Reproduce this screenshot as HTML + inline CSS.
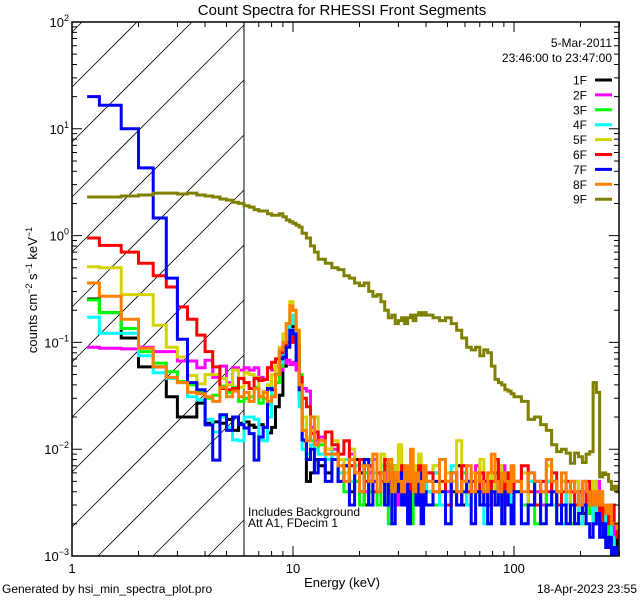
<!DOCTYPE html>
<html><head><meta charset="utf-8"><style>
html,body{margin:0;padding:0;width:640px;height:600px;overflow:hidden;background:#fff}
svg{display:block;font-family:"Liberation Sans",sans-serif}
</style></head><body>
<svg id="chart" width="640" height="600" viewBox="0 0 640 600" xmlns="http://www.w3.org/2000/svg">
<rect width="640" height="600" fill="#fff"/>
<defs><clipPath id="clip"><rect x="72" y="22" width="547" height="534"/></clipPath></defs>
<text x="342" y="15" font-size="15" text-anchor="middle">Count Spectra for RHESSI Front Segments</text>
<g id="hatch"></g>
<g id="series" clip-path="url(#clip)"></g>
<g id="axes"></g>
<text x="342" y="587" font-size="13" text-anchor="middle">Energy (keV)</text>
<text transform="translate(37,290) rotate(-90)" font-size="13" text-anchor="middle">counts cm<tspan dy="-5" font-size="9">−2</tspan><tspan dy="5"> s</tspan><tspan dy="-5" font-size="9">−1</tspan><tspan dy="5"> keV</tspan><tspan dy="-5" font-size="9">−1</tspan></text>
<text x="612" y="47" font-size="12" text-anchor="end">5-Mar-2011</text>
<text x="612" y="62" font-size="12" text-anchor="end">23:46:00 to 23:47:00</text>
<g id="legend"></g>
<text x="248" y="516" font-size="12">Includes Background</text>
<text x="248" y="527" font-size="12">Att A1, FDecim 1</text>
<text x="2" y="593" font-size="12">Generated by hsi_min_spectra_plot.pro</text>
<text x="637" y="593" font-size="12" text-anchor="end">18-Apr-2023 23:55</text>
</svg>
<script>
const edges=[1.17,1.33,1.67,2.0,2.33,2.67,3.0,3.33,3.67,4.0,4.33,4.67,5.0,5.33,5.67,6.0,6.33,6.67,7.0,7.33,7.67,8.0,8.33,8.67,9.0,9.33,9.67,10,10.33,10.67,11,11.5,12,12.5,13,14,
15,16,17,18,19,20,21,22,23,24,25,26,27,28,29,30,31,32,33,34,35,36,37,38,39,40,
43,46,49,52,55,58,61,64,67,70,73,76,79,82,85,88,91,94,97,100,
108,116,124,132,140,148,156,164,172,180,188,196,204,212,220,228,236,244,252,260,268,276,284,292,300];
const seriesNames=["1F","2F","3F","4F","5F","6F","7F","8F","9F"];
const s1F=[.255,.19,.11,.059,.059,.031,.02,.02,.027,.0175,.018,.0175,.019,.015,.0175,.018,.0168,.016,.017,.016,.0142,.016,.025,.032,.06,.1,.16,.14,.09,.03,.012,.005,.006,.008,.007,.006,
.009,.005,.007,.004,.008,.006,.003,.007,.005,.004,.006,.003,.005,.007,.004,.003,.006,.004,.005,.003,.005,.004,.006,.003,.005,
.004,.006,.003,.005,.004,.007,.003,.005,.004,.006,.004,.003,.005,.004,.006,.003,.005,.004,.003,.005,
.004,.003,.005,.003,.004,.005,.003,.004,.003,.004,.003,.004,.003,.0025,.003,.004,.002,.003,.0025,.002,.003,.002,.0015,.0012,.0015];
const s2F=[.09,.088,.087,.09,.082,.082,.067,.067,.058,.068,.047,.06,.042,.058,.055,.058,.055,.058,.047,.045,.058,.055,.06,.055,.064,.068,.062,.065,.055,.045,.037,.035,.016,.012,.013,.01,
.010,.008,.006,.009,.005,.007,.004,.006,.008,.004,.005,.007,.004,.006,.003,.005,.007,.004,.005,.006,.004,.006,.003,.005,.004,
.006,.004,.008,.004,.005,.003,.006,.004,.005,.007,.004,.005,.003,.006,.004,.005,.007,.004,.003,.005,
.005,.003,.006,.004,.003,.005,.004,.003,.005,.004,.003,.005,.003,.004,.003,.004,.003,.005,.003,.0025,.003,.002,.002,.0015,.0015];
const s3F=[.25,.19,.135,.082,.064,.053,.043,.04,.034,.03,.032,.039,.034,.038,.028,.03,.031,.038,.027,.03,.026,.032,.042,.06,.08,.1,.15,.17,.12,.05,.02,.012,.012,.01,.011,.009,
.008,.006,.004,.007,.005,.003,.006,.004,.005,.003,.006,.004,.002,.005,.004,.006,.003,.005,.004,.002,.005,.004,.006,.003,.004,
.005,.003,.004,.002,.005,.004,.006,.003,.004,.005,.003,.004,.002,.005,.003,.004,.006,.003,.004,.002,
.004,.003,.005,.002,.004,.003,.004,.002,.003,.004,.002,.003,.004,.002,.003,.0025,.002,.003,.002,.0025,.002,.0015,.0015,.001,.0012];
const s4F=[.172,.122,.122,.075,.052,.046,.042,.031,.029,.019,.0145,.02,.016,.0122,.012,.02,.02,.019,.0122,.012,.02,.038,.05,.065,.08,.12,.18,.15,.1,.025,.01,.009,.011,.01,.009,.008,
.011,.006,.008,.005,.007,.004,.008,.005,.006,.004,.007,.005,.003,.006,.004,.005,.007,.003,.006,.004,.005,.003,.006,.004,.005,
.004,.006,.003,.005,.007,.004,.005,.003,.006,.004,.005,.002,.006,.004,.005,.003,.004,.006,.003,.005,
.004,.002,.005,.003,.004,.005,.003,.004,.002,.004,.003,.004,.002,.005,.003,.004,.002,.003,.0025,.003,.002,.002,.0015,.0012,.0012];
const s5F=[.51,.5,.28,.28,.145,.09,.073,.049,.041,.05,.05,.046,.04,.055,.038,.052,.05,.047,.031,.035,.04,.05,.06,.09,.12,.15,.24,.2,.13,.045,.02,.013,.015,.02,.012,.01,
.012,.008,.006,.010,.006,.007,.005,.008,.004,.006,.009,.005,.004,.007,.005,.011,.004,.006,.005,.004,.007,.005,.009,.004,.006,
.005,.007,.004,.006,.005,.012,.005,.004,.006,.005,.008,.004,.006,.005,.004,.007,.005,.004,.006,.005,
.004,.006,.003,.005,.004,.007,.004,.003,.005,.004,.003,.005,.004,.003,.004,.003,.005,.003,.004,.003,.0025,.003,.002,.002,.002];
const s6F=[.95,.81,.7,.55,.42,.33,.215,.165,.117,.082,.059,.037,.036,.037,.046,.042,.037,.046,.044,.045,.058,.065,.07,.08,.09,.1,.1,.113,.095,.047,.03,.025,.014,.0145,.012,.0145,
.011,.009,.012,.007,.006,.008,.005,.007,.004,.006,.005,.008,.004,.006,.005,.004,.007,.005,.004,.006,.005,.004,.007,.004,.005,
.006,.004,.005,.003,.006,.004,.007,.004,.005,.004,.006,.004,.003,.005,.008,.004,.005,.003,.006,.004,
.005,.007,.004,.003,.005,.004,.006,.003,.004,.005,.004,.003,.004,.003,.005,.003,.004,.003,.002,.003,.0025,.002,.003,.002,.0015];
const s7F=[20,16.6,10,4.3,1.46,.4,.107,.042,.036,.0169,.0079,.021,.015,.02,.017,.0158,.014,.0079,.013,.016,.037,.036,.05,.07,.073,.09,.13,.12,.068,.036,.0122,.008,.01,.006,.008,.005,
.008,.005,.007,.003,.006,.004,.008,.003,.005,.004,.006,.003,.005,.002,.004,.006,.003,.005,.002,.004,.005,.003,.006,.002,.004,
.003,.005,.004,.002,.006,.003,.004,.005,.002,.004,.003,.005,.002,.004,.003,.005,.002,.004,.003,.002,
.004,.002,.003,.005,.002,.003,.004,.002,.003,.002,.003,.002,.0025,.003,.002,.0015,.002,.0025,.0015,.002,.0012,.0015,.001,.0012,.001];
const s8F=[.36,.27,.165,.088,.059,.047,.042,.034,.033,.031,.028,.038,.031,.035,.031,.034,.028,.037,.031,.034,.028,.031,.05,.085,.1,.15,.22,.2,.13,.04,.015,.012,.02,.011,.012,.009,
.009,.007,.005,.008,.006,.004,.007,.005,.009,.004,.006,.005,.008,.004,.006,.005,.004,.007,.005,.010,.004,.006,.005,.004,.007,
.005,.004,.008,.005,.006,.004,.005,.007,.004,.006,.005,.004,.006,.009,.005,.004,.006,.005,.004,.007,
.005,.004,.006,.005,.004,.008,.005,.004,.006,.004,.005,.004,.003,.005,.004,.003,.004,.003,.004,.003,.0025,.003,.002,.002,.0018];
const s9F=[2.3,2.3,2.35,2.4,2.5,2.5,2.45,2.5,2.4,2.35,2.3,2.2,2.15,2.05,2.0,1.9,1.85,1.75,1.7,1.7,1.6,1.55,1.55,1.6,1.5,1.4,1.35,1.3,1.25,1.2,1.05,.95,.8,.7,.6,.55,
.5,.48,.42,.4,.36,.34,.36,.3,.27,.28,.24,.2,.17,.18,.15,.16,.17,.15,.17,.18,.16,.18,.19,.18,.19,
.18,.17,.16,.17,.15,.13,.11,.09,.085,.09,.075,.085,.08,.06,.045,.042,.04,.036,.035,.033,
.031,.028,.019,.02,.017,.015,.011,.0095,.01,.0092,.0074,.0092,.0085,.0075,.009,.0095,.042,.034,.0055,.006,.0058,.005,.0042,.0045,.004];
const seriesValues=[s1F,s2F,s3F,s4F,s5F,s6F,s7F,s8F,s9F];
const seriesColors=["#000000","#ff00ff","#00ff00","#00ffff","#d4d400","#ff0000","#0000ff","#ff8000","#808000"];
const yTickExps=[-3,-2,-1,0,1,2];
const xTickLabels=["1","10","100"];
const xTickValues=[1,10,100];

const X0=72,X1=619,Y0=556,Y1=22;
const XDEC=221,YDEC=106.8;
const xs=e=>X0+Math.log10(e)*XDEC;
const ys=v=>Y0-(Math.log10(v)+3)*YDEC;
const NS="http://www.w3.org/2000/svg";
function mk(tag,attrs,parent){const el=document.createElementNS(NS,tag);for(const k in attrs)el.setAttribute(k,attrs[k]);parent.appendChild(el);return el;}

const hatch=document.getElementById('hatch');
const XH=xs(6);
let hd="";
for(let k=-10;k<12;k++){
  const c=472+k*55;
  const xa=Math.max(X0,X0+c-Y0), xb=Math.min(XH,X0+c-Y1);
  if(xb<=xa)continue;
  const ya=c-(xa-X0), yb=c-(xb-X0);
  hd+=`M${xa.toFixed(1)},${ya.toFixed(1)} L${xb.toFixed(1)},${yb.toFixed(1)} `;
}
const hp=mk('path',{d:hd,stroke:'#000','stroke-width':0.8,fill:'none'},hatch);


const vl=mk('line',{x1:XH,x2:XH,y1:Y1,y2:Y0,stroke:'#000','stroke-width':1},hatch);



const sg=document.getElementById('series');
seriesValues.forEach((vals,i)=>{
  let d=`M${xs(edges[0]).toFixed(1)},${ys(vals[0]).toFixed(1)}`;
  for(let j=0;j<vals.length;j++){
    if(j>0)d+=` V${ys(vals[j]).toFixed(1)}`;
    d+=` H${xs(edges[j+1]).toFixed(1)}`;
  }
  const p=mk('path',{d:d,stroke:seriesColors[i],'stroke-width':3,fill:'none'},sg);
  
  
});

const ax=document.getElementById('axes');
const fr=mk('rect',{x:X0,y:Y1,width:X1-X0,height:Y0-Y1,fill:'none',stroke:'#000','stroke-width':1.5},ax);


let td="";
for(let dec=1;dec<=100;dec*=10){for(let m=1;m<10;m++){const e=dec*m;if(e>300)break;const x=xs(e);const L=m===1?10:5;td+=`M${x},${Y0} v${-L} M${x},${Y1} v${L} `;}}
for(let ex=-3;ex<2;ex++){for(let m=1;m<10;m++){const y=ys(m*Math.pow(10,ex));const L=m===1?10:5;td+=`M${X0},${y} h${L} M${X1},${y} h${-L} `;}}
const tp=mk('path',{d:td,stroke:'#000','stroke-width':1},ax);


xTickValues.forEach((v,i)=>{
  const t=mk('text',{x:xs(v),y:Y0+17,'font-size':13,'text-anchor':'middle'},ax);
  t.textContent=xTickLabels[i];
  
  
});
yTickExps.forEach(e=>{
  const t=mk('text',{x:X0-3,y:ys(Math.pow(10,e))+5,'font-size':13,'text-anchor':'end'},ax);
  t.innerHTML=`10<tspan dy="-6" font-size="9">${e<0?'−'+(-e):e}</tspan>`;
  
  
});

const lg=document.getElementById('legend');
seriesNames.forEach((n,i)=>{
  const y=80+i*14.9;
  const t=mk('text',{x:587,y:y+4.5,'font-size':12,'text-anchor':'end'},lg);
  t.textContent=n;
  
  
  const l=mk('line',{x1:595,x2:612,y1:y,y2:y,stroke:seriesColors[i],'stroke-width':3},lg);
  
  
});
</script>
</body></html>
